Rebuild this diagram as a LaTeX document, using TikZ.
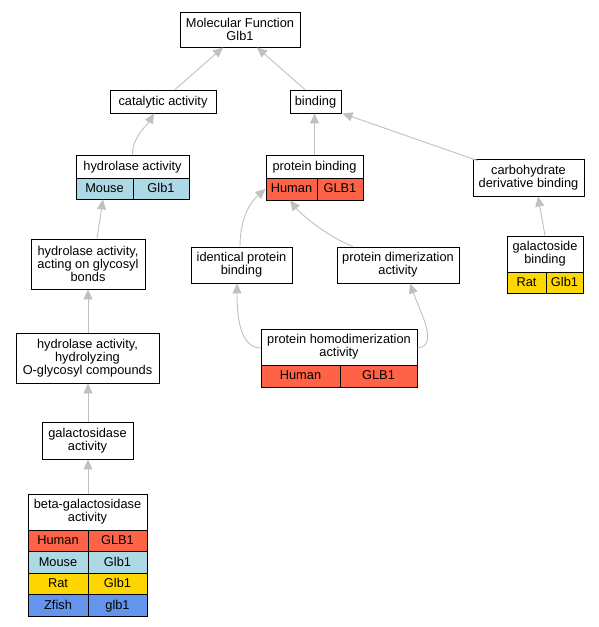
\documentclass[tikz,border=0pt]{standalone}
\usepackage{fontspec}
\setmainfont{Liberation Sans}
\usetikzlibrary{arrows.meta,calc}
\definecolor{human}{HTML}{FF6347}
\definecolor{mouse}{HTML}{ADD8E6}
\definecolor{rat}{HTML}{FFD700}
\definecolor{zfish}{HTML}{6495ED}
\definecolor{edgegray}{HTML}{C0C0C0}
\newcommand{\fsz}{\fontsize{12.8}{13}\selectfont}
\tikzset{
  box/.style={draw=black, line width=0.9pt, fill=white, inner sep=0pt, align=center, font=\fsz},
  oneline/.style={box, text height=10.5pt, text depth=3pt},
  conn/.style={draw=edgegray, line width=0.9pt, -{Triangle[length=10pt,width=9pt]}},
}
\begin{document}
\begin{tikzpicture}[x=1pt,y=-1pt]
\useasboundingbox (0,0) rectangle (599,627);
% nodes
\node[box, minimum width=120pt, minimum height=35pt] (mf) at (240,29.5) {Molecular Function\\Glb1};
\node[oneline, minimum width=106pt, minimum height=23pt] (cat) at (163,101.5) {catalytic activity};
\node[oneline, minimum width=51pt, minimum height=23pt] (bind) at (315.5,101.5) {binding};
% hydrolase activity
\node[oneline, minimum width=113pt, minimum height=23pt] (hyd) at (132.5,166.5) {hydrolase activity};
\node[oneline, fill=mouse, minimum width=57pt, minimum height=21pt] (hydm) at (104.5,188.5) {Mouse};
\node[oneline, fill=mouse, minimum width=56pt, minimum height=21pt] (hydg) at (161,188.5) {Glb1};
% protein binding
\node[oneline, minimum width=97pt, minimum height=23pt] (pb) at (314.5,166.5) {protein binding};
\node[oneline, fill=human, minimum width=51pt, minimum height=22pt] (pbh) at (291.5,189) {Human};
\node[oneline, fill=human, minimum width=46pt, minimum height=22pt] (pbg) at (340,189) {GLB1};
% carbohydrate
\node[box, minimum width=111pt, minimum height=37pt] (carb) at (528.5,177.5) {carbohydrate\\derivative binding};
% identical / dimerization
\node[box, minimum width=101pt, minimum height=36pt] (ident) at (241.5,265) {identical protein\\binding};
\node[box, minimum width=122pt, minimum height=36pt] (dimer) at (398,265) {protein dimerization\\activity};
% galactoside binding
\node[box, minimum width=76pt, minimum height=36pt] (galb) at (545,254) {galactoside\\binding};
\node[oneline, fill=rat, minimum width=39pt, minimum height=21pt] (galbr) at (526.5,282.5) {Rat};
\node[oneline, fill=rat, minimum width=37pt, minimum height=21pt] (galbg) at (564.5,282.5) {Glb1};
% homodimerization
\node[box, minimum width=156pt, minimum height=36pt] (homod) at (339,347) {protein homodimerization\\activity};
\node[oneline, fill=human, minimum width=79pt, minimum height=22pt] (homodh) at (300.5,376) {Human};
\node[oneline, fill=human, minimum width=77pt, minimum height=22pt] (homodg) at (378.5,376) {GLB1};
% left column
\node[box, minimum width=114pt, minimum height=50pt] (acting) at (88,264) {hydrolase activity,\\acting on glycosyl\\bonds};
\node[box, minimum width=143pt, minimum height=50pt] (hydrolyz) at (87.5,358) {hydrolase activity,\\hydrolyzing\\O-glycosyl compounds};
\node[box, minimum width=91pt, minimum height=37pt] (galact) at (87.5,440.5) {galactosidase\\activity};
\node[box, minimum width=119pt, minimum height=36pt] (beta) at (87.5,512) {beta-galactosidase\\activity};
\node[oneline, fill=human, minimum width=60pt, minimum height=21.5pt] (b1a) at (58,540.75) {Human};
\node[oneline, fill=human, minimum width=59pt, minimum height=21.5pt] (b1b) at (117.5,540.75) {GLB1};
\node[oneline, fill=mouse, minimum width=60pt, minimum height=21.5pt] (b2a) at (58,562.25) {Mouse};
\node[oneline, fill=mouse, minimum width=59pt, minimum height=21.5pt] (b2b) at (117.5,562.25) {Glb1};
\node[oneline, fill=rat, minimum width=60pt, minimum height=21.5pt] (b3a) at (58,583.75) {Rat};
\node[oneline, fill=rat, minimum width=59pt, minimum height=21.5pt] (b3b) at (117.5,583.75) {Glb1};
\node[oneline, fill=zfish, minimum width=60pt, minimum height=21.5pt] (b4a) at (58,605.25) {Zfish};
\node[oneline, fill=zfish, minimum width=59pt, minimum height=21.5pt] (b4b) at (117.5,605.25) {glb1};
% connectors
\draw[conn] ([xshift=12pt]cat.north) -- ([xshift=-17pt]mf.south);
\draw[conn] ([xshift=-10.5pt]bind.north) -- ([xshift=17pt]mf.south);
\draw[conn] (hyd.north) .. controls +(0,-18) and +(-7,12) .. ([xshift=-9pt]cat.south);
\draw[conn] (pb.north) -- (pb.north |- bind.south);
\draw[conn] ([xshift=5pt,yshift=-2pt]carb.north west) -- ([xshift=1pt]bind.south east);
\draw[conn] ([xshift=9pt]acting.north) -- ([xshift=-1.5pt]hydm.south);
\draw[conn] (hydrolyz.north -| acting.south) -- (acting.south);
\draw[conn] (galact.north -| acting.south) -- (hydrolyz.south -| acting.south);
\draw[conn] (beta.north -| acting.south) -- (galact.south -| acting.south);
\draw[conn] ([xshift=-1.5pt]ident.north) .. controls +(0,-30) and +(-14,12) .. (pbh.west);
\draw[conn] ([xshift=-45pt]dimer.north) .. controls +(-25,-10) and +(12,15) .. ([xshift=-1.5pt]pbh.south);
\draw[conn] ([yshift=-1pt]homod.west) .. controls +(-22,0) and +(0,28) .. ([xshift=-4.5pt]ident.south);
\draw[conn] ([yshift=-1pt]homod.east) .. controls +(22,-2) and +(10,28) .. ([xshift=12pt]dimer.south);
\draw[conn] (galb.north) -- ([xshift=9.5pt]carb.south);
\end{tikzpicture}
\end{document}
